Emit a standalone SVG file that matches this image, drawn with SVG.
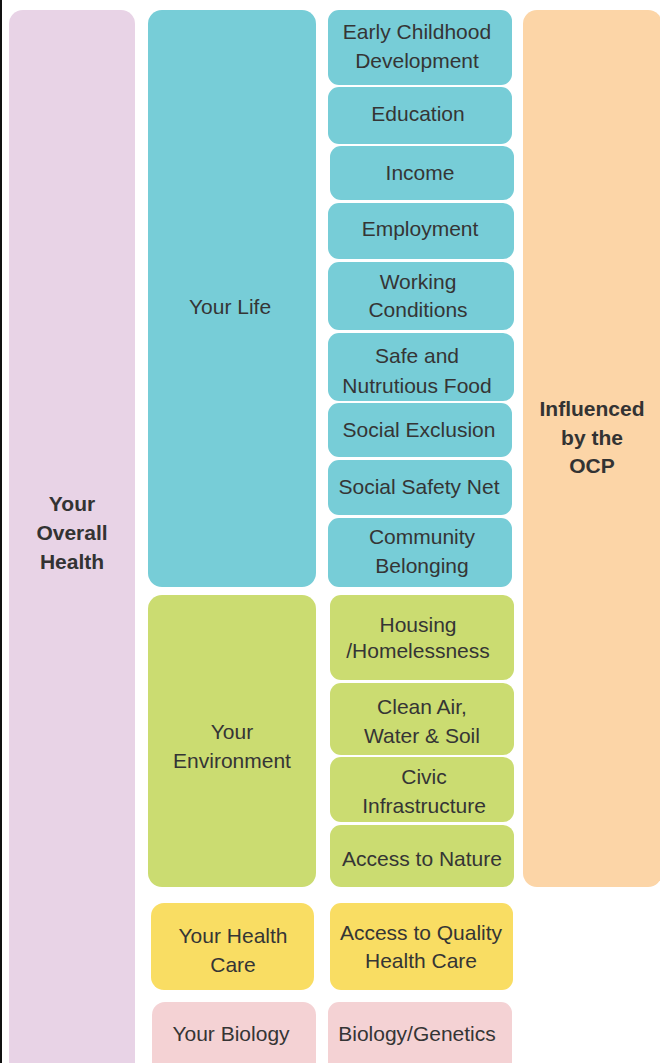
<svg xmlns="http://www.w3.org/2000/svg" width="660" height="1063" viewBox="0 0 660 1063">
  <style>
    text { font-family: "Liberation Sans", Arial, sans-serif; font-size: 21px; fill: #353535; text-anchor: middle; }
    .b { font-weight: bold; font-size: 21px; fill: #333333; }
    .overall { fill: #E8D3E6; }
    .life { fill: #77CDD7; }
    .env { fill: #CBDC71; }
    .care { fill: #F9DD63; }
    .bio { fill: #F4D2D4; }
    .ocp { fill: #FCD5A7; }
  </style>
  <rect x="0" y="0" width="660" height="1063" fill="#FFFFFF"/>
  <rect x="0" y="0" width="2" height="1063" fill="#111111"/>

  <g id="overall-health">
    <rect class="overall" x="9" y="10" width="126" height="1068" rx="14"/>
    <text class="b" x="72" y="511">Your</text>
    <text class="b" x="72" y="540">Overall</text>
    <text class="b" x="72" y="569">Health</text>
  </g>

  <g id="your-life">
    <rect class="life" x="148" y="10" width="168" height="577" rx="14"/>
    <text x="230" y="314">Your Life</text>
  </g>
  <g id="your-environment">
    <rect class="env" x="148" y="595" width="168" height="292" rx="14"/>
    <text x="232" y="739">Your</text>
    <text x="232" y="768">Environment</text>
  </g>
  <g id="your-health-care">
    <rect class="care" x="151" y="903" width="163" height="87" rx="13"/>
    <text x="233" y="943">Your Health</text>
    <text x="233" y="972">Care</text>
  </g>
  <g id="your-biology">
    <rect class="bio" x="152" y="1002" width="164" height="76" rx="13"/>
    <text x="231" y="1041">Your Biology</text>
  </g>

  <g id="early-childhood">
    <rect class="life" x="328" y="10" width="184" height="75" rx="11"/>
    <text x="417" y="39">Early Childhood</text>
    <text x="417" y="68">Development</text>
  </g>
  <g id="education">
    <rect class="life" x="328" y="87" width="184" height="57" rx="11"/>
    <text x="418" y="121">Education</text>
  </g>
  <g id="income">
    <rect class="life" x="330" y="146" width="184" height="54" rx="11"/>
    <text x="420" y="180">Income</text>
  </g>
  <g id="employment">
    <rect class="life" x="328" y="203" width="186" height="56" rx="11"/>
    <text x="420" y="236">Employment</text>
  </g>
  <g id="working-conditions">
    <rect class="life" x="328" y="262" width="186" height="68" rx="11"/>
    <text x="418" y="289">Working</text>
    <text x="418" y="317">Conditions</text>
  </g>
  <g id="safe-food">
    <rect class="life" x="328" y="333" width="186" height="68" rx="11"/>
    <text x="417" y="363">Safe and</text>
    <text x="417" y="393">Nutrutious Food</text>
  </g>
  <g id="social-exclusion">
    <rect class="life" x="328" y="403" width="184" height="54" rx="11"/>
    <text x="419" y="437">Social Exclusion</text>
  </g>
  <g id="social-safety-net">
    <rect class="life" x="328" y="460" width="184" height="55" rx="11"/>
    <text x="419" y="494">Social Safety Net</text>
  </g>
  <g id="community-belonging">
    <rect class="life" x="328" y="518" width="184" height="69" rx="11"/>
    <text x="422" y="544">Community</text>
    <text x="422" y="573">Belonging</text>
  </g>

  <g id="housing">
    <rect class="env" x="330" y="595" width="184" height="85" rx="11"/>
    <text x="418" y="632">Housing</text>
    <text x="418" y="658">/Homelessness</text>
  </g>
  <g id="clean-air">
    <rect class="env" x="330" y="683" width="184" height="72" rx="11"/>
    <text x="422" y="714">Clean Air,</text>
    <text x="422" y="743">Water &amp; Soil</text>
  </g>
  <g id="civic-infrastructure">
    <rect class="env" x="330" y="757" width="184" height="65" rx="11"/>
    <text x="424" y="784">Civic</text>
    <text x="424" y="813">Infrastructure</text>
  </g>
  <g id="access-nature">
    <rect class="env" x="330" y="825" width="184" height="62" rx="11"/>
    <text x="422" y="866">Access to Nature</text>
  </g>
  <g id="access-health-care">
    <rect class="care" x="330" y="903" width="183" height="87" rx="11"/>
    <text x="421" y="940">Access to Quality</text>
    <text x="421" y="968">Health Care</text>
  </g>
  <g id="biology-genetics">
    <rect class="bio" x="328" y="1002" width="184" height="76" rx="11"/>
    <text x="417" y="1041">Biology/Genetics</text>
  </g>

  <g id="influenced-ocp">
    <rect class="ocp" x="523" y="10" width="139" height="877" rx="14"/>
    <text class="b" x="592" y="416">Influenced</text>
    <text class="b" x="592" y="445">by the</text>
    <text class="b" x="592" y="473">OCP</text>
  </g>

  <g id="connectors"></g>
</svg>
